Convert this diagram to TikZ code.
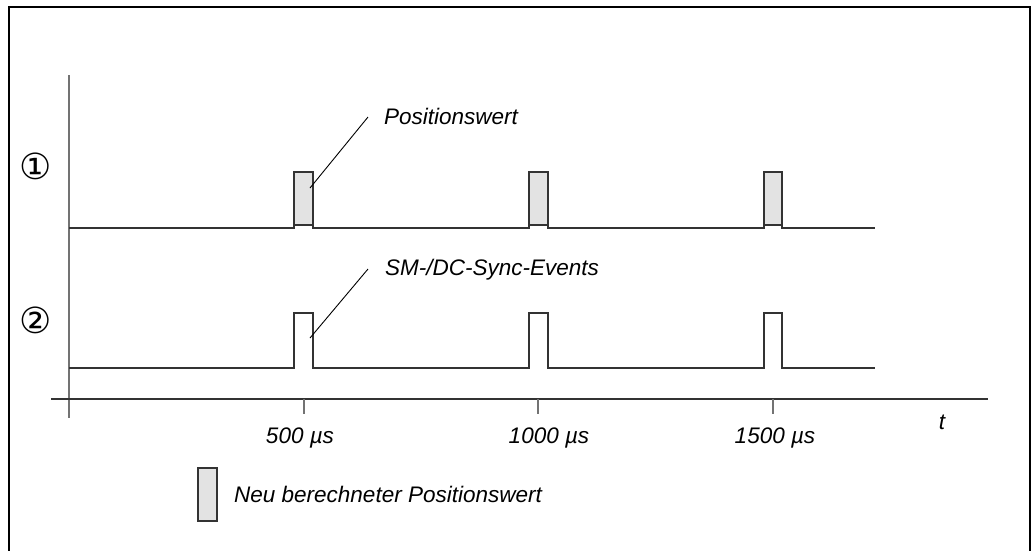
\documentclass[tikz,border=0pt]{standalone}
\usepackage{fontspec}
\setmainfont{Liberation Sans}
\newfontfamily\symfont{DejaVu Sans}
\begin{document}
\begin{tikzpicture}[x=1pt,y=-1pt,
  trace/.style={draw=black!80,line width=1.1pt,line join=miter},
  pulsefill/.style={fill=black!11,draw=black!80,line width=1.1pt},
  axisline/.style={draw=black!55,line width=1.6pt},
  timeaxis/.style={draw=black!80,line width=1.1pt},
  tickmark/.style={draw=black!55,line width=1.4pt},
  leader/.style={draw=black,line width=0.9pt},
  lbl/.style={font=\fontsize{22.5}{26}\selectfont\itshape,inner sep=0pt},
  circnum/.style={font=\symfont\fontsize{36}{40}\selectfont,inner sep=0pt}]
\useasboundingbox (0,0) rectangle (1034,550);
% outer frame
\draw[line width=2.6pt] (9,7) rectangle (1030,556);

% vertical axis and time axis
\coordinate (vtop) at (69,75);
\coordinate (vbot) at (69,418);
\draw[axisline] (vtop) -- (vbot);
\coordinate (tl) at (51,399);
\coordinate (tr) at (988,399);
\draw[timeaxis] (tl) -- (tr);

% ticks and their labels
\foreach \xx/\nm/\txt/\lx in {304/a/500/300,538/b/1000/549,773/c/1500/775}{
  \coordinate (tick\nm) at (\xx,399);
  \coordinate (tickend\nm) at (\xx,414);
  \draw[tickmark] (tick\nm) -- (tickend\nm);
  \node[lbl,anchor=base] (ticklbl\nm) at (\lx,443) {\txt\ µs};
}
\node[lbl,anchor=base] (tlabel) at (942,429) {t};

% signal 1: recomputed position values
\fill[black!11] (294,172) rectangle (313,225);
\fill[black!11] (529,172) rectangle (548,225);
\fill[black!11] (764,172) rectangle (782,225);
\draw[trace] (69,228) -- (294,228) -- (294,172) -- (313,172) -- (313,228)
  -- (529,228) -- (529,172) -- (548,172) -- (548,228)
  -- (764,228) -- (764,172) -- (782,172) -- (782,228) -- (875,228);
\draw[trace] (294,225) -- (313,225) (529,225) -- (548,225) (764,225) -- (782,225);

% signal 2: SM/DC sync events
\draw[trace] (69,368) -- (294,368) -- (294,313) -- (313,313) -- (313,368)
  -- (529,368) -- (529,313) -- (548,313) -- (548,368)
  -- (764,368) -- (764,313) -- (782,313) -- (782,368) -- (875,368);

% row markers
\node[circnum] (one) at (36,166) {①};
\node[circnum] (two) at (36,320) {②};

% callouts
\node[lbl,anchor=base west] (poslbl) at (384,124) {Positionswert};
\coordinate (posend) at (368,117);
\coordinate (postip) at (310,188);
\draw[leader] (posend) -- (postip);

\node[lbl,anchor=base west] (synclbl) at (385,275) {SM-/DC-Sync-Events};
\coordinate (syncend) at (368,269);
\coordinate (synctip) at (310,338);
\draw[leader] (syncend) -- (synctip);

% legend
\node[pulsefill,minimum width=19pt,minimum height=53pt,inner sep=0pt] (legbox) at (207.5,494.5) {};
\node[lbl,anchor=base west] (leglbl) at (234,502) {Neu berechneter Positionswert};
\end{tikzpicture}
\end{document}
